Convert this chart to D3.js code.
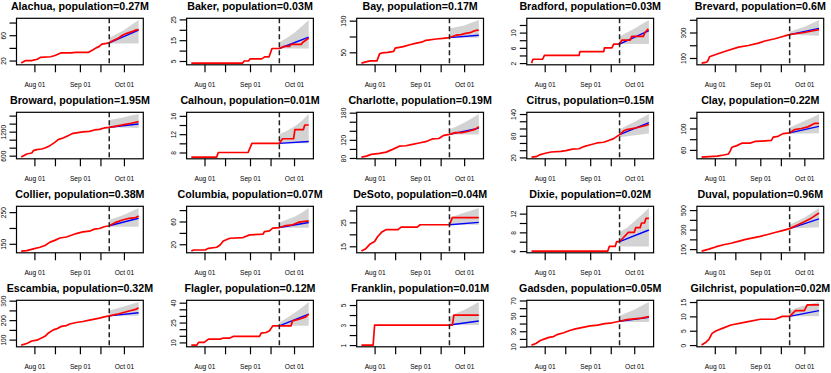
<!DOCTYPE html>
<html><head><meta charset="utf-8">
<script src="https://cdn.jsdelivr.net/npm/d3@7"></script>
<style>body{margin:0;background:#fff}svg{display:block}</style>
</head><body><svg id="c" width="831" height="373"></svg>
<script>
const counties = ["Alachua","Baker","Bay","Bradford","Brevard","Broward","Calhoun","Charlotte","Citrus","Clay","Collier","Columbia","DeSoto","Dixie","Duval","Escambia","Flagler","Franklin","Gadsden","Gilchrist"];
const populations = ["0.27M","0.03M","0.17M","0.03M","0.6M","1.95M","0.01M","0.19M","0.15M","0.22M","0.38M","0.07M","0.04M","0.02M","0.96M","0.32M","0.12M","0.01M","0.05M","0.02M"];
const firstDate = "2020-07-23";          // day 0 of the series
const forecastStartDate = "2020-09-21";  // dashed line
const xTickDates = ["2020-08-01","2020-08-15","2020-09-01","2020-09-15","2020-10-01"];
const xTickLabels = ["Aug 01","","Sep 01","","Oct 01"];

const yTicks = [
  [20,40,60,80],[5,10,15,20,25],[50,100,150],[2,4,6,8,10,12],[100,200,300,400],
  [600,800,1000,1200,1400,1600],[8,10,12,14,16],[80,100,120,140,160,180],[20,40,60,80,100,120,140],[60,80,100,120],
  [150,200,250],[20,40,60,80],[15,20,25,30],[4,6,8,10,12],[100,200,300,400,500],
  [100,150,200,250,300],[10,15,20,25,30,35,40],[1,2,3,4,5],[10,20,30,40,50,60,70],[0,5,10,15]
];
const yTickLabels = [
  [20,60],[5,15,25],[50,150],[2,6,10],[100,300],
  [600,1200],[8,12,16],[80,120,180],[20,80,140],[60,100],
  [150,250],[20,60],[15,25],[4,8,12],[100,300,500],
  [100,200,300],[10,25,40],[1,3,5],[10,30,50,70],[0,5,10,15]
];

// observed cumulative counts (red): [day, value]
const observed = [
  [[0,16],[3,20],[7,20],[11,22],[13,25],[20,26],[23,28],[27,32],[34,32],[37,33],[46,33],[49,37],[51,40],[53,42],[55,46],[58,47],[60,48],[62,51],[66,55],[69,60],[72,63],[76,66],[78,68],[80,69]],
  [[0,4],[35,4],[36,5],[39,5],[40,6],[48,6],[50,7],[53,7],[55,11],[60,11],[63,12],[67,12],[68,13],[75,13],[76,14],[78,15],[80,16]],
  [[0,16],[3,20],[6,23],[10.6,23],[12.4,45],[14,48],[18,50],[22,53],[23,63],[28.5,68],[33,74],[37.5,79],[41,82],[44,88],[51,92],[55.5,94],[60,96.5],[62,100],[64.5,104],[68,106],[71,110],[74,112],[76,116],[78,119],[80,120]],
  [[0,2],[1,3],[7.6,3],[8.8,4],[32.4,4],[33,5],[49.2,5],[49.7,6],[54.8,6],[56,7],[60,7],[61.6,8],[67.2,8],[68.3,9],[76.2,9],[77.3,10],[79.6,11]],
  [[0,60],[2.7,65],[3.8,70],[4.5,84],[5.5,110],[7.2,118],[16.2,153],[25.2,185],[31.9,198],[38.7,217],[43.1,233],[49.9,251],[56.6,273],[60,283],[65,292],[70,300],[75,312],[80,323]],
  [[0,565],[1.6,600],[3.8,642],[7.2,667],[8.3,725],[10.6,750],[13.9,767],[16.2,792],[19.6,850],[22.9,933],[25.2,1000],[28.5,1042],[31.9,1100],[35.3,1158],[42,1192],[46.5,1208],[49.9,1242],[53.3,1258],[56.6,1292],[60,1308],[65,1340],[70,1375],[75,1410],[80,1450]],
  [[0,7],[17.3,7],[18.4,8],[38.7,8],[41.3,10],[60,10],[62.2,11],[69.7,11],[70.6,13],[76.4,13],[77.3,14],[80,14]],
  [[0,82],[3.4,84],[6.7,88],[12.4,90],[16.9,93],[21.3,99],[25.8,106],[30.3,107],[34.8,110],[39.3,113],[43.8,116],[48.3,122],[52.8,123],[56.2,130],[60,132],[64,136],[68.5,136],[73,139],[77.5,143],[80,149]],
  [[0,21],[3.1,22],[5.4,27],[8.8,31],[13.3,35],[20,37],[23.4,39],[27.9,43],[32.4,44],[35.7,50],[40.2,55],[44.7,60],[49.2,62],[52.6,67],[56,72],[60,83],[62.7,93],[64.9,97],[71.7,102],[78.4,109],[80,112]],
  [[0,46.6],[2.7,47],[10.6,48.5],[15.1,50.5],[18.4,52.4],[19.6,58.7],[20.7,65],[24,68],[27.4,72.6],[33,72.6],[36.4,75.8],[40.9,76.4],[47.6,77.7],[48.8,84],[52.1,85.3],[55.5,90.4],[60,91.7],[63.4,98],[67.9,100],[72.4,103],[76.9,109.5],[80,109.5]],
  [[0,127],[3.8,128.4],[8.3,133.9],[12.8,139.2],[16.2,144.6],[19.6,155.4],[22.9,160.8],[26.3,168.3],[30.8,171.5],[34.2,176.9],[37.5,182.3],[42,187.6],[46.5,189.8],[49.9,196.3],[53.3,198.4],[56.6,203.8],[60,207],[64.5,217.7],[69,225.2],[73.5,230.6],[78,232.8],[80,238]],
  [[0,8],[1.6,9.9],[9.4,9.9],[11.7,12.9],[17.3,14.7],[19.6,18.8],[21.8,25.8],[26.3,30.6],[35.3,31.8],[39.8,36.5],[48.8,37.7],[49.9,42.3],[53.3,43.5],[55.5,48.3],[60,49.4],[64.5,52.9],[69,54.2],[73.5,58.9],[80,61.2]],
  [[0,13],[3,14],[6,16],[9,17],[11,19],[14,21],[17,22],[25,22],[27,23],[38,23],[40,24],[60,24],[62,27],[80,27]],
  [[0,4],[52,4],[53,5],[57,5],[58,6],[60,6],[63,7],[66,8],[70,8],[71,9],[74,9],[75,10],[77,10],[78,11],[80,11]],
  [[0,80],[5,100],[10,125],[15,145],[20,160],[25,180],[30,200],[35,215],[40,230],[45,250],[50,270],[55,290],[60,310],[65,345],[70,380],[75,420],[80,470]],
  [[0,72],[3.8,80],[7.2,93],[10.6,97],[12.8,105],[16.2,117],[18.4,133],[21.8,150],[24,155],[27.4,168],[30.8,172],[33,180],[37.5,188],[42,193],[46.5,200],[49.9,205],[53.3,210],[56.6,217],[60,222],[66.7,233],[73.5,247],[78,255],[80,263]],
  [[0,8],[3.8,8],[4.9,10],[8.8,10],[11.7,12.5],[19.6,12.5],[21.8,13.3],[26.3,13.3],[28.5,14.5],[46.5,14.5],[47.6,17],[51,17.5],[53.3,18.8],[55.5,22.5],[60,22.5],[67.9,22.5],[69,26.3],[73.5,27.5],[78,29.3],[80,31.3]],
  [[0,1],[8,1],[9,3],[62,3],[63,4],[80,4]],
  [[0,12],[3,14],[6,18],[9,20],[12,22],[15,23],[18,26],[22,28],[26,31],[30,33],[35,35],[40,37],[45,38],[50,40],[55,41],[60,43],[65,45],[70,46],[75,47],[80,49]],
  [[0,0],[3,1],[5,2],[7,4],[10,5],[15,6],[20,7],[30,8],[40,9],[50,9],[55,10],[60,10],[64,12],[70,12],[72,14],[80,14]]
];

// forecast median (blue): [day, value]
const forecastMedian = [
  [[60,48],[80,68]],[[60,11],[80,16.5]],[[60,96.5],[80,104]],[[60,7],[80,10.5]],[[60,283],[80,332]],
  [[60,1308],[80,1392]],[[60,10],[80,10.4]],[[60,132],[80,146]],[[60,83],[80,116]],[[60,91.7],[80,104]],
  [[60,207],[80,230.6]],[[60,49.4],[80,58.3]],[[60,24],[80,25]],[[60,6],[80,8.5]],[[60,310],[80,410]],
  [[60,222],[80,238]],[[60,22.5],[80,31.3]],[[60,3],[80,3.4]],[[60,43],[80,48]],[[60,10],[80,12]]
];

// forecast interval (grey band)
const bandUpper = [
  [[60,56],[65,62],[70,68],[75,76],[80,84]],
  [[60,14],[65,16],[70,18.5],[75,21.5],[80,24.7]],
  [[60,125],[65,130],[70,135],[75,143],[80,152]],
  [[60,9],[65,10],[70,11],[75,12.2],[80,13.3]],
  [[60,305],[65,325],[70,345],[75,370],[80,398]],
  [[60,1490],[65,1525],[70,1560],[75,1600],[80,1640]],
  [[60,12],[65,12.7],[70,13.6],[75,14.8],[80,16.4]],
  [[60,143],[65,150],[70,158],[75,167],[80,177]],
  [[60,97],[65,108],[70,118],[75,129],[80,140]],
  [[60,102],[65,108],[70,114],[75,120],[80,127]],
  [[60,225],[65,233],[70,242],[75,252],[80,263]],
  [[60,58],[65,63],[70,68],[75,75],[80,83.7]],
  [[60,27],[65,28],[70,29],[75,30],[80,31]],
  [[60,8],[65,9],[70,10.3],[75,11.7],[80,13.2]],
  [[60,350],[65,385],[70,425],[75,470],[80,521]],
  [[60,250],[65,260],[70,270],[75,281],[80,293]],
  [[60,25],[65,28.5],[70,32],[75,36],[80,40.5]],
  [[60,3.8],[65,4.2],[70,4.5],[75,4.9],[80,5.3]],
  [[60,50],[65,54],[70,58],[75,63],[80,68]],
  [[60,12],[65,13],[70,13.8],[75,14.5],[80,15]]
];
const bandLower = [
  [[60,47],[80,47]],[[60,11],[80,11]],[[60,96],[80,96]],[[60,7],[80,7]],[[60,283],[80,275]],
  [[60,1308],[80,1290]],[[60,10],[80,10]],[[60,132],[80,132]],[[60,76],[80,86]],[[60,90],[80,91]],
  [[60,204],[80,204]],[[60,49],[80,49]],[[60,24],[80,24]],[[60,5],[80,5]],[[60,310],[80,325]],
  [[60,222],[80,222]],[[60,22.5],[80,22.5]],[[60,3],[80,3]],[[60,42],[80,42]],[[60,10],[80,10]]
];

// ---------- layout ----------
const colPitch = 170.1, rowPitch = 94, boxLeft0 = 16.5, boxTop0 = 18.3, boxW = 126.8, boxH = 46.5;
const FONT = "'Liberation Sans', Arial, Helvetica, sans-serif";

const parse = d3.timeParse("%Y-%m-%d");
const day0 = parse(firstDate);
const toDate = d => new Date(day0.getTime() + d * 86400000);
const pad = ([a, b]) => { const s = (b - a) * 0.04; return [a - s, b + s]; };

const dayExt = d3.extent(observed.flat(), p => p[0]);
const x = d3.scaleTime().domain(pad(dayExt).map(toDate)).range([0, boxW]);
const xTicks = xTickDates.map(parse);
const cutDate = parse(forecastStartDate);

const svg = d3.select("#c");

counties.forEach((name, i) => {
  const r = Math.floor(i / 5), c = i % 5;
  const g = svg.append("g").attr("transform", `translate(${boxLeft0 + c * colPitch},${boxTop0 + r * rowPitch})`);
  const vals = [...observed[i], ...forecastMedian[i], ...bandUpper[i], ...bandLower[i]].map(p => p[1]);
  const y = d3.scaleLinear().domain(pad(d3.extent(vals))).range([boxH, 0]);
  const line = d3.line().x(p => x(toDate(p[0]))).y(p => y(p[1]));

  // band
  const poly = bandUpper[i].concat(bandLower[i].slice().reverse());
  g.append("path").attr("d", line(poly) + "Z").attr("fill", "#d3d3d3").attr("stroke", "none");

  // forecast median
  g.append("path").attr("d", line(forecastMedian[i])).attr("fill", "none")
    .attr("stroke", "#0000ff").attr("stroke-width", 1.4);
  // observed
  g.append("path").attr("d", line(observed[i])).attr("fill", "none")
    .attr("stroke", "#ff0000").attr("stroke-width", 1.7).attr("stroke-linejoin", "round");

  // dashed cut line
  g.append("line").attr("x1", x(cutDate)).attr("x2", x(cutDate)).attr("y1", 0).attr("y2", boxH)
    .attr("stroke", "#222").attr("stroke-width", 1.5).attr("stroke-dasharray", "5,3");

  // box
  g.append("rect").attr("x", 0).attr("y", 0).attr("width", boxW).attr("height", boxH)
    .attr("fill", "none").attr("stroke", "#000").attr("stroke-width", 1.2);

  // x axis
  const xa = g.append("g").attr("transform", `translate(0,${boxH})`)
    .call(d3.axisBottom(x).tickValues(xTicks).tickFormat((d, k) => xTickLabels[k]).tickSize(7.5).tickSizeOuter(0));
  xa.select(".domain").remove();
  xa.selectAll(".tick line").attr("stroke", "#000").attr("stroke-width", 1.2);
  xa.selectAll(".tick text").attr("y", 22).attr("dy", null)
    .attr("font-family", FONT).attr("font-size", 6.6).attr("fill", "#000");

  // y axis
  const labs = yTickLabels[i];
  const ya = g.append("g")
    .call(d3.axisLeft(y).tickValues(yTicks[i]).tickFormat(d => labs.includes(d) ? String(d) : "").tickSize(7).tickSizeOuter(0));
  ya.select(".domain").remove();
  ya.selectAll(".tick line").attr("stroke", "#000").attr("stroke-width", 1.2);
  ya.selectAll(".tick text").attr("x", null).attr("dy", null).attr("text-anchor", "middle")
    .attr("transform", "translate(-10.7,0) rotate(-90)")
    .attr("font-family", FONT).attr("font-size", 6.6).attr("fill", "#000");

  // title
  g.append("text").attr("x", boxW / 2).attr("y", 9.5 - boxTop0).attr("text-anchor", "middle")
    .attr("font-family", FONT).attr("font-weight", "bold").attr("font-size", 10.7).attr("fill", "#000")
    .text(`${name}, population=${populations[i]}`);
});
</script>
</body></html>
